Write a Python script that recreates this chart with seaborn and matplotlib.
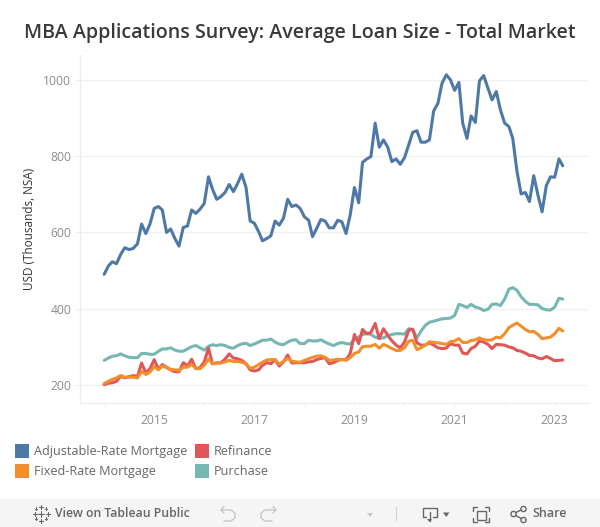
import pandas as pd
import numpy as np
import matplotlib
matplotlib.use("Agg")
import matplotlib.pyplot as plt
import matplotlib.patches as mpatches
import seaborn as sns

# monthly values, Jan 2014 - Mar 2023
arm = [490, 512, 523, 518, 542, 560, 555, 558, 570, 622, 597, 622, 663, 668, 659, 600, 609, 584, 564, 613,
       617, 659, 650, 661, 676, 746, 714, 687, 694, 705, 726, 707, 729, 753, 718, 630, 624, 602, 578, 584,
       591, 630, 619, 637, 687, 668, 672, 663, 641, 632, 589, 611, 634, 630, 612, 612, 632, 628, 597, 646,
       718, 678, 784, 793, 799, 887, 824, 843, 824, 786, 793, 779, 796, 830, 863, 867, 837, 837, 843, 919,
       939, 992, 1014, 1001, 973, 994, 887, 847, 906, 889, 998, 1012, 979, 948, 970, 922, 887, 878, 847, 760,
       701, 705, 681, 749, 698, 654, 723, 746, 745, 793, 775]
purchase = [264, 270, 275, 276, 281, 276, 272, 271, 271, 282, 282, 280, 280, 288, 294, 294, 297, 291, 288, 288,
            294, 300, 303, 297, 291, 301, 305, 303, 305, 303, 298, 296, 303, 307, 309, 303, 307, 312, 317, 317,
            320, 312, 307, 305, 312, 317, 318, 308, 308, 317, 315, 315, 318, 312, 307, 303, 308, 311, 308, 307,
            319, 325, 332, 334, 332, 325, 322, 323, 329, 332, 334, 334, 333, 347, 345, 323, 341, 356, 364, 367,
            370, 373, 374, 375, 382, 411, 408, 403, 411, 404, 401, 395, 398, 411, 412, 408, 425, 451, 455, 448,
            431, 419, 411, 411, 410, 400, 397, 396, 404, 427, 425]
refinance = [200, 204, 205, 209, 222, 218, 221, 224, 222, 257, 231, 242, 266, 241, 253, 246, 239, 234, 234, 258,
             249, 267, 242, 245, 260, 296, 255, 257, 258, 267, 281, 270, 268, 264, 255, 239, 236, 239, 251, 258,
             255, 266, 249, 260, 278, 257, 258, 258, 258, 260, 261, 266, 269, 271, 255, 258, 264, 266, 266, 282,
             332, 308, 345, 334, 337, 361, 321, 347, 330, 315, 304, 297, 312, 343, 346, 310, 304, 304, 310, 304,
             297, 295, 296, 308, 304, 304, 283, 281, 295, 301, 315, 312, 306, 295, 306, 305, 304, 299, 297, 290,
             288, 283, 277, 276, 270, 268, 274, 269, 263, 264, 265]
fixed = [203, 209, 214, 218, 224, 220, 220, 220, 218, 235, 227, 233, 248, 239, 249, 245, 240, 239, 238, 246,
         246, 253, 243, 242, 251, 268, 255, 257, 257, 260, 264, 261, 261, 259, 255, 243, 246, 253, 259, 265,
         266, 266, 254, 261, 269, 262, 260, 259, 264, 268, 272, 275, 276, 272, 264, 265, 267, 266, 264, 271,
         282, 286, 300, 301, 301, 306, 296, 306, 301, 295, 290, 290, 297, 314, 317, 292, 297, 304, 313, 311,
         310, 308, 306, 313, 315, 321, 311, 311, 316, 318, 323, 318, 317, 318, 325, 323, 334, 350, 356, 362,
         354, 345, 339, 340, 332, 321, 323, 325, 334, 348, 341]
dates = pd.date_range("2014-01-01", periods=len(arm), freq="MS")

SERIES_NAMES = ["Adjustable-Rate Mortgage", "Purchase", "Refinance", "Fixed-Rate Mortgage"]
COLORS = {"Adjustable-Rate Mortgage": "#4e79a7", "Purchase": "#76b7b2",
          "Refinance": "#e15759", "Fixed-Rate Mortgage": "#f28e2b"}
y_ticks = [200, 400, 600, 800, 1000]
year_ticks = list(range(2014, 2024))
year_labels = [str(y) if y % 2 == 1 else "" for y in year_ticks]

df = pd.DataFrame({"date": dates, "Adjustable-Rate Mortgage": arm, "Purchase": purchase,
                   "Refinance": refinance, "Fixed-Rate Mortgage": fixed})
df_long = df.melt(id_vars="date", var_name="series", value_name="usd")

sns.set_style("white")
plt.rcParams["font.family"] = ["Open Sans", "DejaVu Sans"]

W, H = 600, 527
fig = plt.figure(figsize=(W / 100, H / 100), dpi=100)

# overlay in pixel coordinates for title, legend and toolbar
ui = fig.add_axes([0, 0, 1, 1], zorder=0)
ui.set_xlim(0, W)
ui.set_ylim(H, 0)
ui.axis("off")

ax = fig.add_axes([79.5 / W, 1 - 403 / H, (588 - 79.5) / W, (403 - 55) / H], zorder=1)
ax.patch.set_alpha(0)
sns.lineplot(data=df_long, x="date", y="usd", hue="series", hue_order=SERIES_NAMES, palette=COLORS,
             linewidth=2.2, legend=False, ax=ax, errorbar=None)

ax.set_xlim(pd.Timestamp("2013-07-05"), pd.Timestamp("2023-09-01"))
ax.set_ylim(152, 1066)
ax.set_yticks(y_ticks)
ax.set_xticks([pd.Timestamp(f"{y}-01-01") for y in year_ticks])
ax.set_xticklabels(year_labels)
ax.grid(axis="y", color="#f0f0f0", linewidth=1)
ax.grid(axis="x", visible=False)
ax.set_axisbelow(True)
for side in ["top", "right"]:
    ax.spines[side].set_visible(False)
for side in ["left", "bottom"]:
    ax.spines[side].set_color("#eeeeee")
    ax.spines[side].set_linewidth(1)
ax.tick_params(axis="x", length=2.5, color="#eeeeee", labelcolor="#8c8c8c", labelsize=8.7, pad=5.5, bottom=True)
ax.tick_params(axis="y", length=3.5, color="#eeeeee", labelcolor="#8c8c8c", labelsize=8.7, pad=2.5, left=True)
ax.set_xlabel("")
ax.set_ylabel("USD (Thousands, NSA)", fontsize=8.5, color="#333333")
ax.yaxis.set_label_coords((36 - 79.5) / (588 - 79.5), 0.5)

ui.text(300, 33, "MBA Applications Survey: Average Loan Size - Total Market", ha="center", va="center",
        fontsize=14.1, fontweight="semibold", color="#3a3a3a")

# legend
legend_items = [("Adjustable-Rate Mortgage", 15, 444), ("Fixed-Rate Mortgage", 15, 464),
                ("Refinance", 195, 444), ("Purchase", 195, 464)]
for name, x, y in legend_items:
    ui.add_patch(mpatches.Rectangle((x, y), 14, 14, facecolor=COLORS[name], edgecolor="none"))
    ui.text(x + 19, y + 7.5, name, va="center", fontsize=9.1, color="#666666")

# toolbar
ui.add_patch(mpatches.Rectangle((0, 499), W, 28, facecolor="#f5f5f5", edgecolor="none"))
ui.text(55, 513.5, "View on Tableau Public", va="center", fontsize=8.8, fontweight="semibold", color="#666666")
ui.text(532, 513.5, "Share", va="center", fontsize=9, fontweight="semibold", color="#666666")

dark = "#666666"
light = "#c8c8c8"
# tableau mark
for cx, cy, r in [(41, 513.5, 3), (41, 506.5, 2), (41, 520.5, 2), (34.5, 513.5, 2), (47.5, 513.5, 2),
                  (36, 508.5, 1.3), (46, 508.5, 1.3), (36, 518.5, 1.3), (46, 518.5, 1.3)]:
    ui.plot([cx - r, cx + r], [cy, cy], color=dark, lw=0.8)
    ui.plot([cx, cx], [cy - r, cy + r], color=dark, lw=0.8)
# undo / redo
ui.plot([221, 231, 235, 235, 231, 224], [510, 510, 513, 518, 521, 521], color=light, lw=1)
ui.plot([224, 221, 224], [506.5, 510, 513], color=light, lw=1)
ui.plot([276, 265, 261, 261, 265, 272], [510, 510, 513, 518, 521, 521], color=light, lw=1)
ui.plot([273, 276, 273], [506.5, 510, 513], color=light, lw=1)
ui.add_patch(mpatches.Polygon([(367, 513), (373, 513), (370, 517)], facecolor=light, edgecolor="none"))
ui.plot([396, 396], [507, 520], color="#d8d8d8", lw=1)
# download
ui.plot([426, 422.5, 422.5, 437, 437, 433], [517, 517, 507.5, 507.5, 517, 517], color=dark, lw=1)
ui.plot([429.5, 429.5], [512, 521], color=dark, lw=1)
ui.add_patch(mpatches.Polygon([(427, 519), (432, 519), (429.5, 522)], facecolor=dark, edgecolor="none"))
ui.add_patch(mpatches.Polygon([(443, 512.5), (449.5, 512.5), (446.2, 517)], facecolor=dark, edgecolor="none"))
# fullscreen
ui.add_patch(mpatches.Rectangle((476.5, 510.5), 9, 9, fill=False, edgecolor=dark, lw=1))
for x0, sx in [(473, 1), (489, -1)]:
    for y0, sy in [(506.5, 1), (522, -1)]:
        ui.plot([x0 + 4 * sx, x0, x0], [y0, y0, y0 + 4 * sy], color=dark, lw=1)
# share
ui.plot([513, 523], [514, 509], color=dark, lw=1)
ui.plot([513, 523], [514, 519.5], color=dark, lw=1)
for cx, cy in [(513.5, 514), (523.5, 509), (523.5, 520)]:
    ui.add_patch(mpatches.Circle((cx, cy), 2.6, facecolor="#f5f5f5", edgecolor=dark, lw=1, zorder=3))

fig.savefig("out.png", dpi=100)
